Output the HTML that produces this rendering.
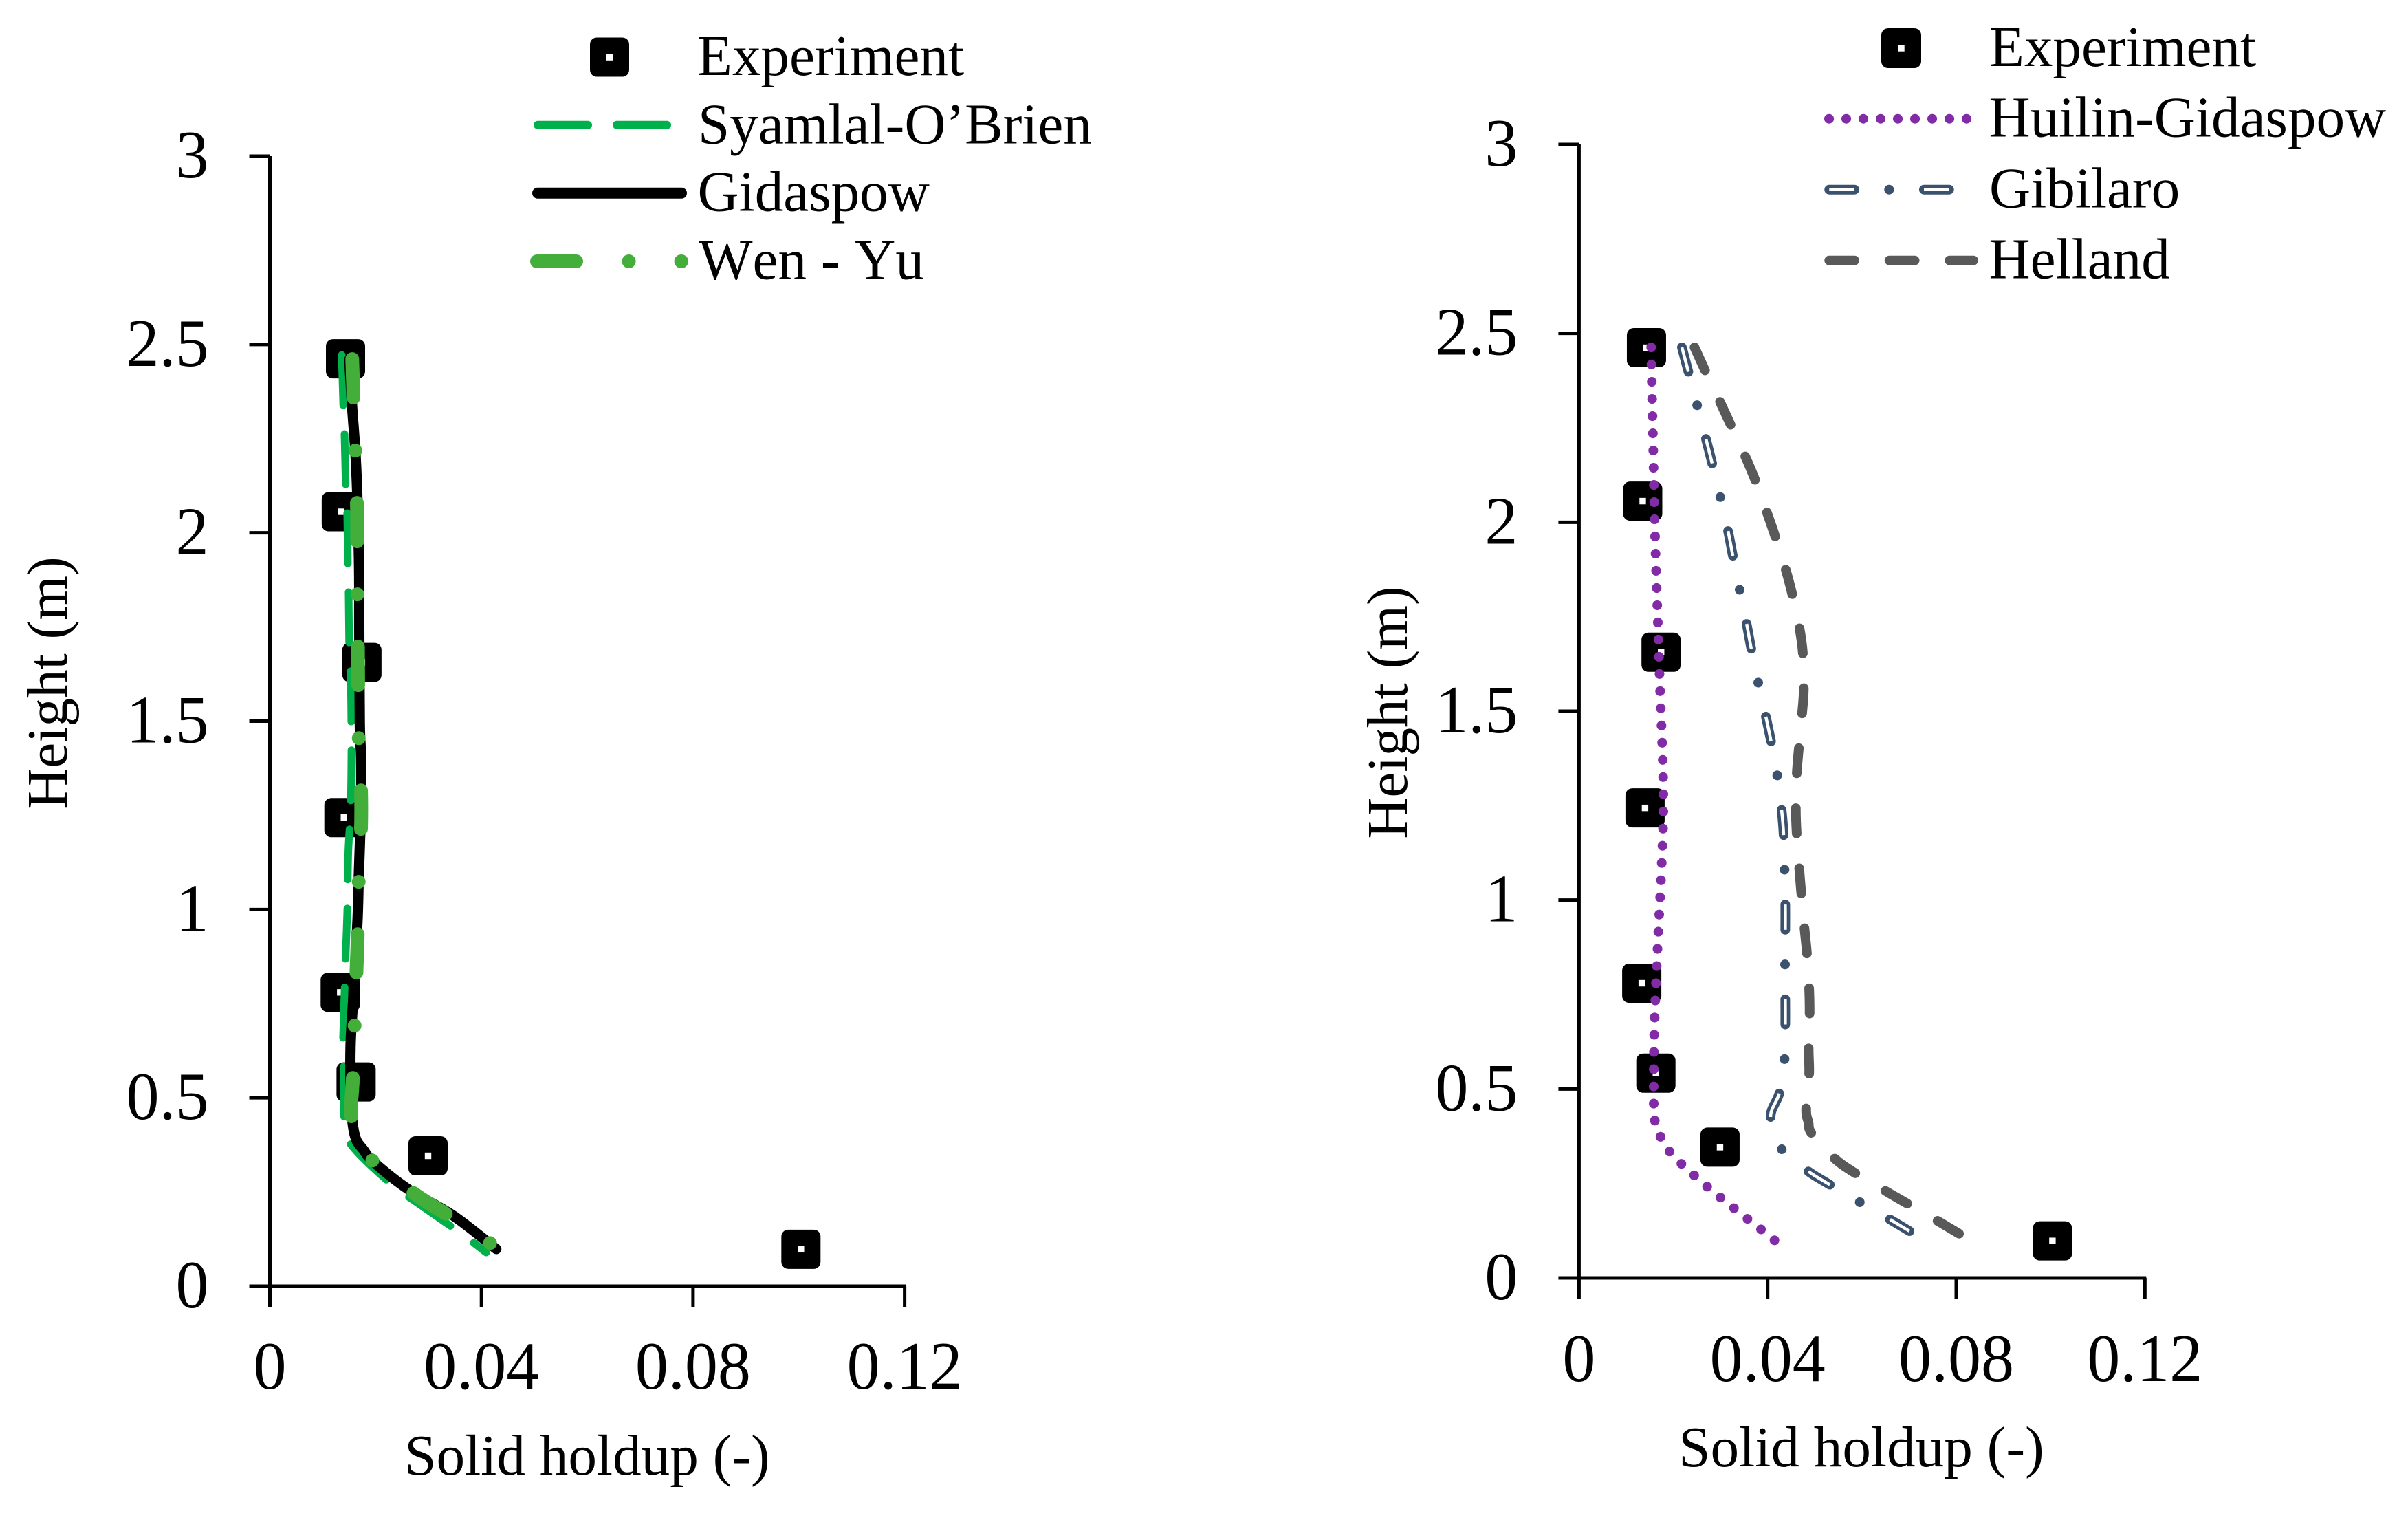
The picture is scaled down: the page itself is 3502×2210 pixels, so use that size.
<!DOCTYPE html>
<html lang="en">
<head>
<meta charset="utf-8">
<title>Solid holdup vs height</title>
<style>
html,body{margin:0;padding:0;background:#fff;}
svg{display:block;}
text{font-family:"Liberation Serif",serif;fill:#000;font-kerning:none;}
.tick{font-size:99px;}
.label{font-size:83.2px;}
</style>
</head>
<body>
<svg id="chart" xmlns="http://www.w3.org/2000/svg" width="3502" height="2210" viewBox="0 0 3502 2210">
  <rect x="0" y="0" width="3502" height="2210" fill="#fff"/>
  <g id="panel-left"></g>
  <g id="panel-right"></g>

  <text class="label" x="854" y="2144" text-anchor="middle">Solid holdup (-)</text>
  <text class="label" transform="translate(97 993) rotate(-90)" text-anchor="middle">Height (m)</text>
  <text class="label" x="2707" y="2132" text-anchor="middle">Solid holdup (-)</text>
  <text class="label" transform="translate(2046 1036) rotate(-90)" text-anchor="middle">Height (m)</text>

  <g>
    <g>
      <rect x="858" y="54.500" width="57" height="57" rx="10" fill="#000"/>
      <rect x="882" y="78.500" width="9.300" height="9.300" fill="#fff"/>
      <text class="label" x="1014" y="109">Experiment</text>
    </g>
    <g>
      <line x1="782" y1="181.700" x2="970" y2="181.700" stroke="#00B04A" stroke-width="12" stroke-linecap="round" stroke-dasharray="73 42"/>
      <text class="label" x="1015" y="208.500">Syamlal-O’Brien</text>
    </g>
    <g>
      <line x1="782" y1="280.700" x2="991" y2="280.700" stroke="#000" stroke-width="16" stroke-linecap="round"/>
      <text class="label" x="1014.500" y="306.500">Gidaspow</text>
    </g>
    <g>
      <line x1="781" y1="380" x2="991" y2="380" stroke="#44AE3A" stroke-width="20" stroke-linecap="round" stroke-dasharray="57 76.500 0.100 76"/>
      <text class="label" x="1016" y="405.500">Wen - Yu</text>
    </g>
  </g>

  <g>
    <g>
      <rect x="2736" y="41" width="58" height="58" rx="10" fill="#000"/>
      <rect x="2760.300" y="65.300" width="9.400" height="9.400" fill="#fff"/>
      <text class="label" x="2893" y="96">Experiment</text>
    </g>
    <g>
      <line x1="2660" y1="172.700" x2="2861" y2="172.700" stroke="#812CA6" stroke-width="14" stroke-linecap="round" stroke-dasharray="0.100 24.900"/>
      <text class="label" x="2892.500" y="198.700">Huilin-Gidaspow</text>
    </g>
    <g>
      <line x1="2660.300" y1="275.700" x2="2835" y2="275.700" stroke="#3B526E" stroke-width="14" stroke-linecap="round" stroke-dasharray="36.700 50.300 0.100 50.600"/>
      <line x1="2660.300" y1="275.700" x2="2835" y2="275.700" stroke="#fff" stroke-width="4" stroke-linecap="butt" stroke-dasharray="36.700 50.300 0 50.700"/>
      <text class="label" x="2893" y="301.700">Gibilaro</text>
    </g>
    <g>
      <line x1="2660.300" y1="378.700" x2="2870" y2="378.700" stroke="#595959" stroke-width="14" stroke-linecap="round" stroke-dasharray="36.700 50.800"/>
      <text class="label" x="2892.500" y="404.300">Helland</text>
    </g>
  </g>
</svg>
<script>
const heightTicks = [0, 0.5, 1, 1.5, 2, 2.5, 3];
const heightTickLabels = ['0', '0.5', '1', '1.5', '2', '2.5', '3'];
const holdupTicks = [0, 0.04, 0.08, 0.12];
const holdupTickLabels = ['0', '0.04', '0.08', '0.12'];

const experimentHoldup = [0.0143, 0.0135, 0.0174, 0.014, 0.0133, 0.0163, 0.0299, 0.1004];
const experimentHeight = [2.462, 2.056, 1.656, 1.244, 0.78, 0.542, 0.346, 0.098];

const syamlalHoldup = [0.01359, 0.01391, 0.01411, 0.01437, 0.01463, 0.01476, 0.01489, 0.01502, 0.01528, 0.01541, 0.01541, 0.01528, 0.01482, 0.01463, 0.01424, 0.01411, 0.01381, 0.01398, 0.0142, 0.01606, 0.02347, 0.02733, 0.03608, 0.04089];
const syamlalHeight = [2.472, 2.3224, 2.2603, 2.1125, 2.0449, 1.8989, 1.835, 1.6852, 1.6213, 1.4789, 1.4059, 1.2763, 1.1484, 0.9951, 0.8453, 0.7796, 0.6372, 0.5715, 0.4218, 0.3633, 0.2647, 0.2264, 0.1406, 0.0895];

const gidaspowHoldup = [0.015, 0.01554, 0.01632, 0.01684, 0.0169, 0.017, 0.01723, 0.01723, 0.0168, 0.01658, 0.016, 0.01528, 0.01528, 0.01563, 0.01632, 0.01766, 0.01957, 0.02607, 0.03478, 0.0428];
const gidaspowHeight = [2.46, 2.337, 2.173, 1.93, 1.748, 1.494, 1.406, 1.276, 1.083, 0.975, 0.813, 0.65, 0.519, 0.4346, 0.389, 0.3626, 0.33, 0.258, 0.186, 0.0986];

const wenYuHoldup = [0.01557, 0.0158, 0.01615, 0.01645, 0.01651, 0.01654, 0.01665, 0.0168, 0.01723, 0.01723, 0.0168, 0.01658, 0.01641, 0.01602, 0.01563, 0.01537, 0.01606, 0.01966, 0.02737, 0.0337, 0.04193];
const wenYuHeight = [2.4612, 2.3608, 2.2202, 2.0814, 1.9774, 1.8386, 1.698, 1.457, 1.3164, 1.2178, 1.0754, 0.9184, 0.8508, 0.692, 0.5368, 0.4692, 0.3743, 0.3305, 0.2447, 0.1881, 0.1114];

const huilinHoldup = [0.0153, 0.0155, 0.01574, 0.01594, 0.01623, 0.01671, 0.01696, 0.01719, 0.01763, 0.01784, 0.01788, 0.01769, 0.01719, 0.01681, 0.01632, 0.01594, 0.01584, 0.01609, 0.01734, 0.01925, 0.02177, 0.02718, 0.03284, 0.03859, 0.0417];
const huilinHeight = [2.463, 2.3266, 2.19, 2.0535, 1.917, 1.735, 1.644, 1.553, 1.416, 1.324, 1.233, 1.142, 1.0055, 0.9157, 0.7792, 0.6426, 0.46, 0.415, 0.372, 0.3337, 0.3013, 0.2414, 0.1846, 0.1285, 0.097];

const gibilaroHoldup = [0.02182, 0.02323, 0.02507, 0.02692, 0.02828, 0.02998, 0.03159, 0.03265, 0.03407, 0.03553, 0.03655, 0.03801, 0.03961, 0.04073, 0.04204, 0.04296, 0.0434, 0.04359, 0.04374, 0.04374, 0.04369, 0.04374, 0.04374, 0.04359, 0.04253, 0.04063, 0.04282, 0.04821, 0.05282, 0.05911, 0.06539, 0.07009];
const gibilaroHeight = [2.463, 2.3963, 2.3084, 2.2205, 2.1536, 2.0657, 1.9776, 1.9092, 1.821, 1.7318, 1.6639, 1.5753, 1.4861, 1.4195, 1.3295, 1.2392, 1.1706, 1.0801, 0.9885, 0.9199, 0.8296, 0.7378, 0.6687, 0.5789, 0.491, 0.4254, 0.3435, 0.2858, 0.2494, 0.2034, 0.1587, 0.1238];

const hellandHoldup = [0.02449, 0.02678, 0.02988, 0.03222, 0.03523, 0.03738, 0.03986, 0.04165, 0.04384, 0.04525, 0.04676, 0.04749, 0.04767, 0.04729, 0.04661, 0.04617, 0.04598, 0.04617, 0.04671, 0.04715, 0.04782, 0.04836, 0.0488, 0.0489, 0.0487, 0.0488, 0.04817, 0.04865, 0.04938, 0.05413, 0.05863, 0.06477, 0.06961, 0.07578, 0.08059];
const hellandHeight = [2.463, 2.4007, 2.3193, 2.2561, 2.1749, 2.1112, 2.0256, 1.9607, 1.8746, 1.8077, 1.7198, 1.6499, 1.5589, 1.491, 1.4012, 1.3326, 1.2421, 1.1737, 1.0826, 1.0158, 0.9248, 0.8551, 0.7659, 0.6967, 0.6075, 0.5383, 0.4473, 0.412, 0.3818, 0.3168, 0.2767, 0.2317, 0.1966, 0.1529, 0.1171];

const NS = 'http://www.w3.org/2000/svg';

function shape(tag, attrs) {
  const node = document.createElementNS(NS, tag);
  for (const key in attrs) node.setAttribute(key, attrs[key]);
  return node;
}

function linearScale(d0, d1, p0, p1) {
  return function (v) { return p0 + (v - d0) * (p1 - p0) / (d1 - d0); };
}

function smoothPath(xs, ys, sx, sy) {
  const pts = xs.map(function (v, i) { return [sx(v), sy(ys[i])]; });
  let d = 'M' + pts[0][0].toFixed(2) + ' ' + pts[0][1].toFixed(2);
  for (let i = 0; i < pts.length - 1; i++) {
    const p0 = pts[Math.max(i - 1, 0)];
    const p1 = pts[i];
    const p2 = pts[i + 1];
    const p3 = pts[Math.min(i + 2, pts.length - 1)];
    const c1x = p1[0] + (p2[0] - p0[0]) / 6;
    const c1y = p1[1] + (p2[1] - p0[1]) / 6;
    const c2x = p2[0] - (p3[0] - p1[0]) / 6;
    const c2y = p2[1] - (p3[1] - p1[1]) / 6;
    d += 'C' + c1x.toFixed(2) + ' ' + c1y.toFixed(2) + ' ' + c2x.toFixed(2) + ' ' + c2y.toFixed(2) + ' ' + p2[0].toFixed(2) + ' ' + p2[1].toFixed(2);
  }
  return d;
}

function drawAxes(parent, sx, sy, geom) {
  const yAxis = shape('line', {x1: sx(0), y1: sy(0), x2: sx(0), y2: sy(3), stroke: '#000', 'stroke-width': 5});
  
  
  parent.appendChild(yAxis);

  const xAxis = shape('line', {x1: sx(0) - 2, y1: sy(0), x2: sx(0.12) + 2, y2: sy(0), stroke: '#000', 'stroke-width': 5});
  
  
  parent.appendChild(xAxis);

  heightTicks.forEach(function (v, i) {
    const mark = shape('line', {x1: sx(0) - 30, y1: sy(v), x2: sx(0), y2: sy(v), stroke: '#000', 'stroke-width': 5});
    
    
    parent.appendChild(mark);

    const label = shape('text', {transform: 'translate(' + (sx(0) - 89) + ' ' + (sy(v) + 31) + ') scale(0.97 1)', 'text-anchor': 'end', 'class': 'tick'});
    
    
    label.textContent = heightTickLabels[i];
    parent.appendChild(label);
  });

  holdupTicks.forEach(function (v, i) {
    const mark = shape('line', {x1: sx(v), y1: sy(0), x2: sx(v), y2: sy(0) + 30, stroke: '#000', 'stroke-width': 5});
    
    
    parent.appendChild(mark);

    const label = shape('text', {transform: 'translate(' + sx(v) + ' ' + geom.xLabelBaseline + ') scale(0.97 1)', 'text-anchor': 'middle', 'class': 'tick'});
    
    
    label.textContent = holdupTickLabels[i];
    parent.appendChild(label);
  });
}

function drawExperiment(parent, sx, sy) {
  experimentHoldup.forEach(function (v, i) {
    const cx = sx(v);
    const cy = sy(experimentHeight[i]);
    const point = shape('rect', {x: cx - 28.5, y: cy - 28.5, width: 57, height: 57, rx: 10, fill: '#000'});
    
    
    parent.appendChild(point);

    const hole = shape('rect', {x: cx - 4.7, y: cy - 4.7, width: 9.4, height: 9.4, fill: '#fff'});
    
    
    parent.appendChild(hole);
  });
}

/* ---- left panel ---- */
const leftGroup = document.getElementById('panel-left');
const leftX = linearScale(0, 0.12, 392.5, 1315.6);
const leftY = linearScale(0, 3, 1870, 227);
drawAxes(leftGroup, leftX, leftY, {xLabelBaseline: 2019});
drawExperiment(leftGroup, leftX, leftY);

const syamlalLine = shape('path', {d: smoothPath(syamlalHoldup, syamlalHeight, leftX, leftY), fill: 'none', stroke: '#00B04A', 'stroke-width': 11, 'stroke-linecap': 'round', 'stroke-linejoin': 'round', 'stroke-dasharray': '73 42'});


leftGroup.appendChild(syamlalLine);

const gidaspowLine = shape('path', {d: smoothPath(gidaspowHoldup, gidaspowHeight, leftX, leftY), fill: 'none', stroke: '#000', 'stroke-width': 15, 'stroke-linecap': 'round', 'stroke-linejoin': 'round'});


leftGroup.appendChild(gidaspowLine);

const wenYuLine = shape('path', {d: smoothPath(wenYuHoldup, wenYuHeight, leftX, leftY), fill: 'none', stroke: '#44AE3A', 'stroke-width': 20, 'stroke-linecap': 'round', 'stroke-linejoin': 'round', 'stroke-dasharray': '56 77 0.1 76'});


leftGroup.appendChild(wenYuLine);

/* ---- right panel ---- */
const rightGroup = document.getElementById('panel-right');
const rightX = linearScale(0, 0.12, 2296.4, 3119.3);
const rightY = linearScale(0, 3, 1858, 210);
drawAxes(rightGroup, rightX, rightY, {xLabelBaseline: 2008});
drawExperiment(rightGroup, rightX, rightY);

const huilinLine = shape('path', {d: smoothPath(huilinHoldup, huilinHeight, rightX, rightY), fill: 'none', stroke: '#812CA6', 'stroke-width': 14, 'stroke-linecap': 'round', 'stroke-linejoin': 'round', 'stroke-dasharray': '0.1 24.9'});


rightGroup.appendChild(huilinLine);

const gibilaroPath = smoothPath(gibilaroHoldup, gibilaroHeight, rightX, rightY);
const gibilaroLine = shape('path', {d: gibilaroPath, fill: 'none', stroke: '#3B526E', 'stroke-width': 14, 'stroke-linecap': 'round', 'stroke-linejoin': 'round', 'stroke-dasharray': '36.7 50.3 0.1 50.6'});


rightGroup.appendChild(gibilaroLine);

const gibilaroInner = shape('path', {d: gibilaroPath, fill: 'none', stroke: '#fff', 'stroke-width': 4.5, 'stroke-linecap': 'butt', 'stroke-linejoin': 'round', 'stroke-dasharray': '36.7 50.3 0 50.7'});


rightGroup.appendChild(gibilaroInner);

const hellandLine = shape('path', {d: smoothPath(hellandHoldup, hellandHeight, rightX, rightY), fill: 'none', stroke: '#595959', 'stroke-width': 14, 'stroke-linecap': 'round', 'stroke-linejoin': 'round', 'stroke-dasharray': '36.7 50.8'});


rightGroup.appendChild(hellandLine);
</script>
</body>
</html>
